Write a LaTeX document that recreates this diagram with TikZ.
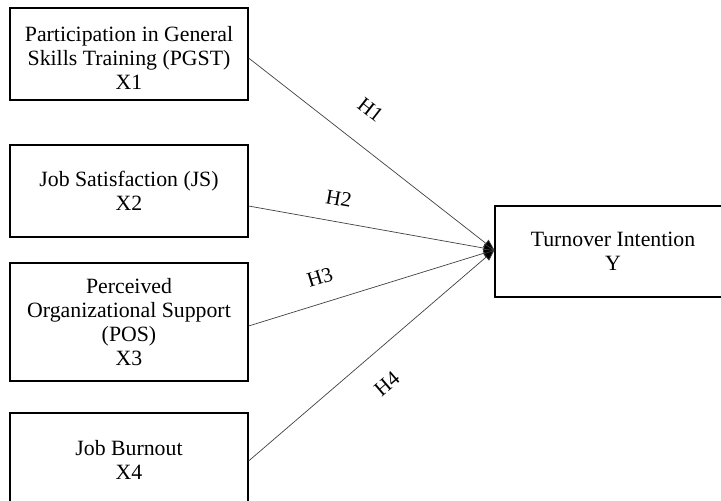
\documentclass[tikz,border=0pt]{standalone}
\usepackage{fontspec}
\setmainfont{Liberation Serif}
\usetikzlibrary{arrows.meta}
\begin{document}
\begin{tikzpicture}[x=1pt,y=-1pt,
  txt/.style={align=center,inner sep=0pt,font=\fontsize{21.8}{24}\selectfont},
  box/.style={txt,draw=black,line width=1.2pt},
  link/.style={draw=black!75,line width=0.7pt,-{Triangle[length=11pt,width=9pt,fill=black]}},
  hlab/.style={font=\fontsize{21}{24}\selectfont,sloped,inner sep=0pt}]
\useasboundingbox (0,0) rectangle (721,501);
\node[box,minimum width=238pt,minimum height=92pt] (x1) at (129,54) {};
\node[txt] (x1t) at ([yshift=-4pt]x1.center)
  {Participation in General\\Skills Training (PGST)\\X1};
\node[box,minimum width=238pt,minimum height=92pt] (x2) at (129,191)
  {Job Satisfaction (JS)\\X2};
\node[box,minimum width=238pt,minimum height=118pt] (x3) at (129,322)
  {Perceived\\Organizational Support\\(POS)\\X3};
\node[box,minimum width=238pt,minimum height=94pt] (x4) at (129,460)
  {Job Burnout\\X4};
\node[box,minimum width=236pt,minimum height=91pt] (y) at (613,251.5)
  {Turnover Intention\\Y};
\draw[link] ([yshift=-4pt]x1.east) -- node[hlab,pos=0.41,above=27pt] {H1} ([yshift=1.5pt]y.west);
\draw[link] ([yshift=-15pt]x2.east) -- node[hlab,pos=0.35,above=16pt] {H2} ([yshift=1.5pt]y.west);
\draw[link] ([yshift=-4pt]x3.east) -- node[hlab,pos=0.32,above=18pt] {H3} ([yshift=1.5pt]y.west);
\draw[link] ([yshift=-1pt]x4.east) -- node[hlab,pos=0.48,below=24pt] {H4} ([yshift=1.5pt]y.west);
\end{tikzpicture}
\end{document}
